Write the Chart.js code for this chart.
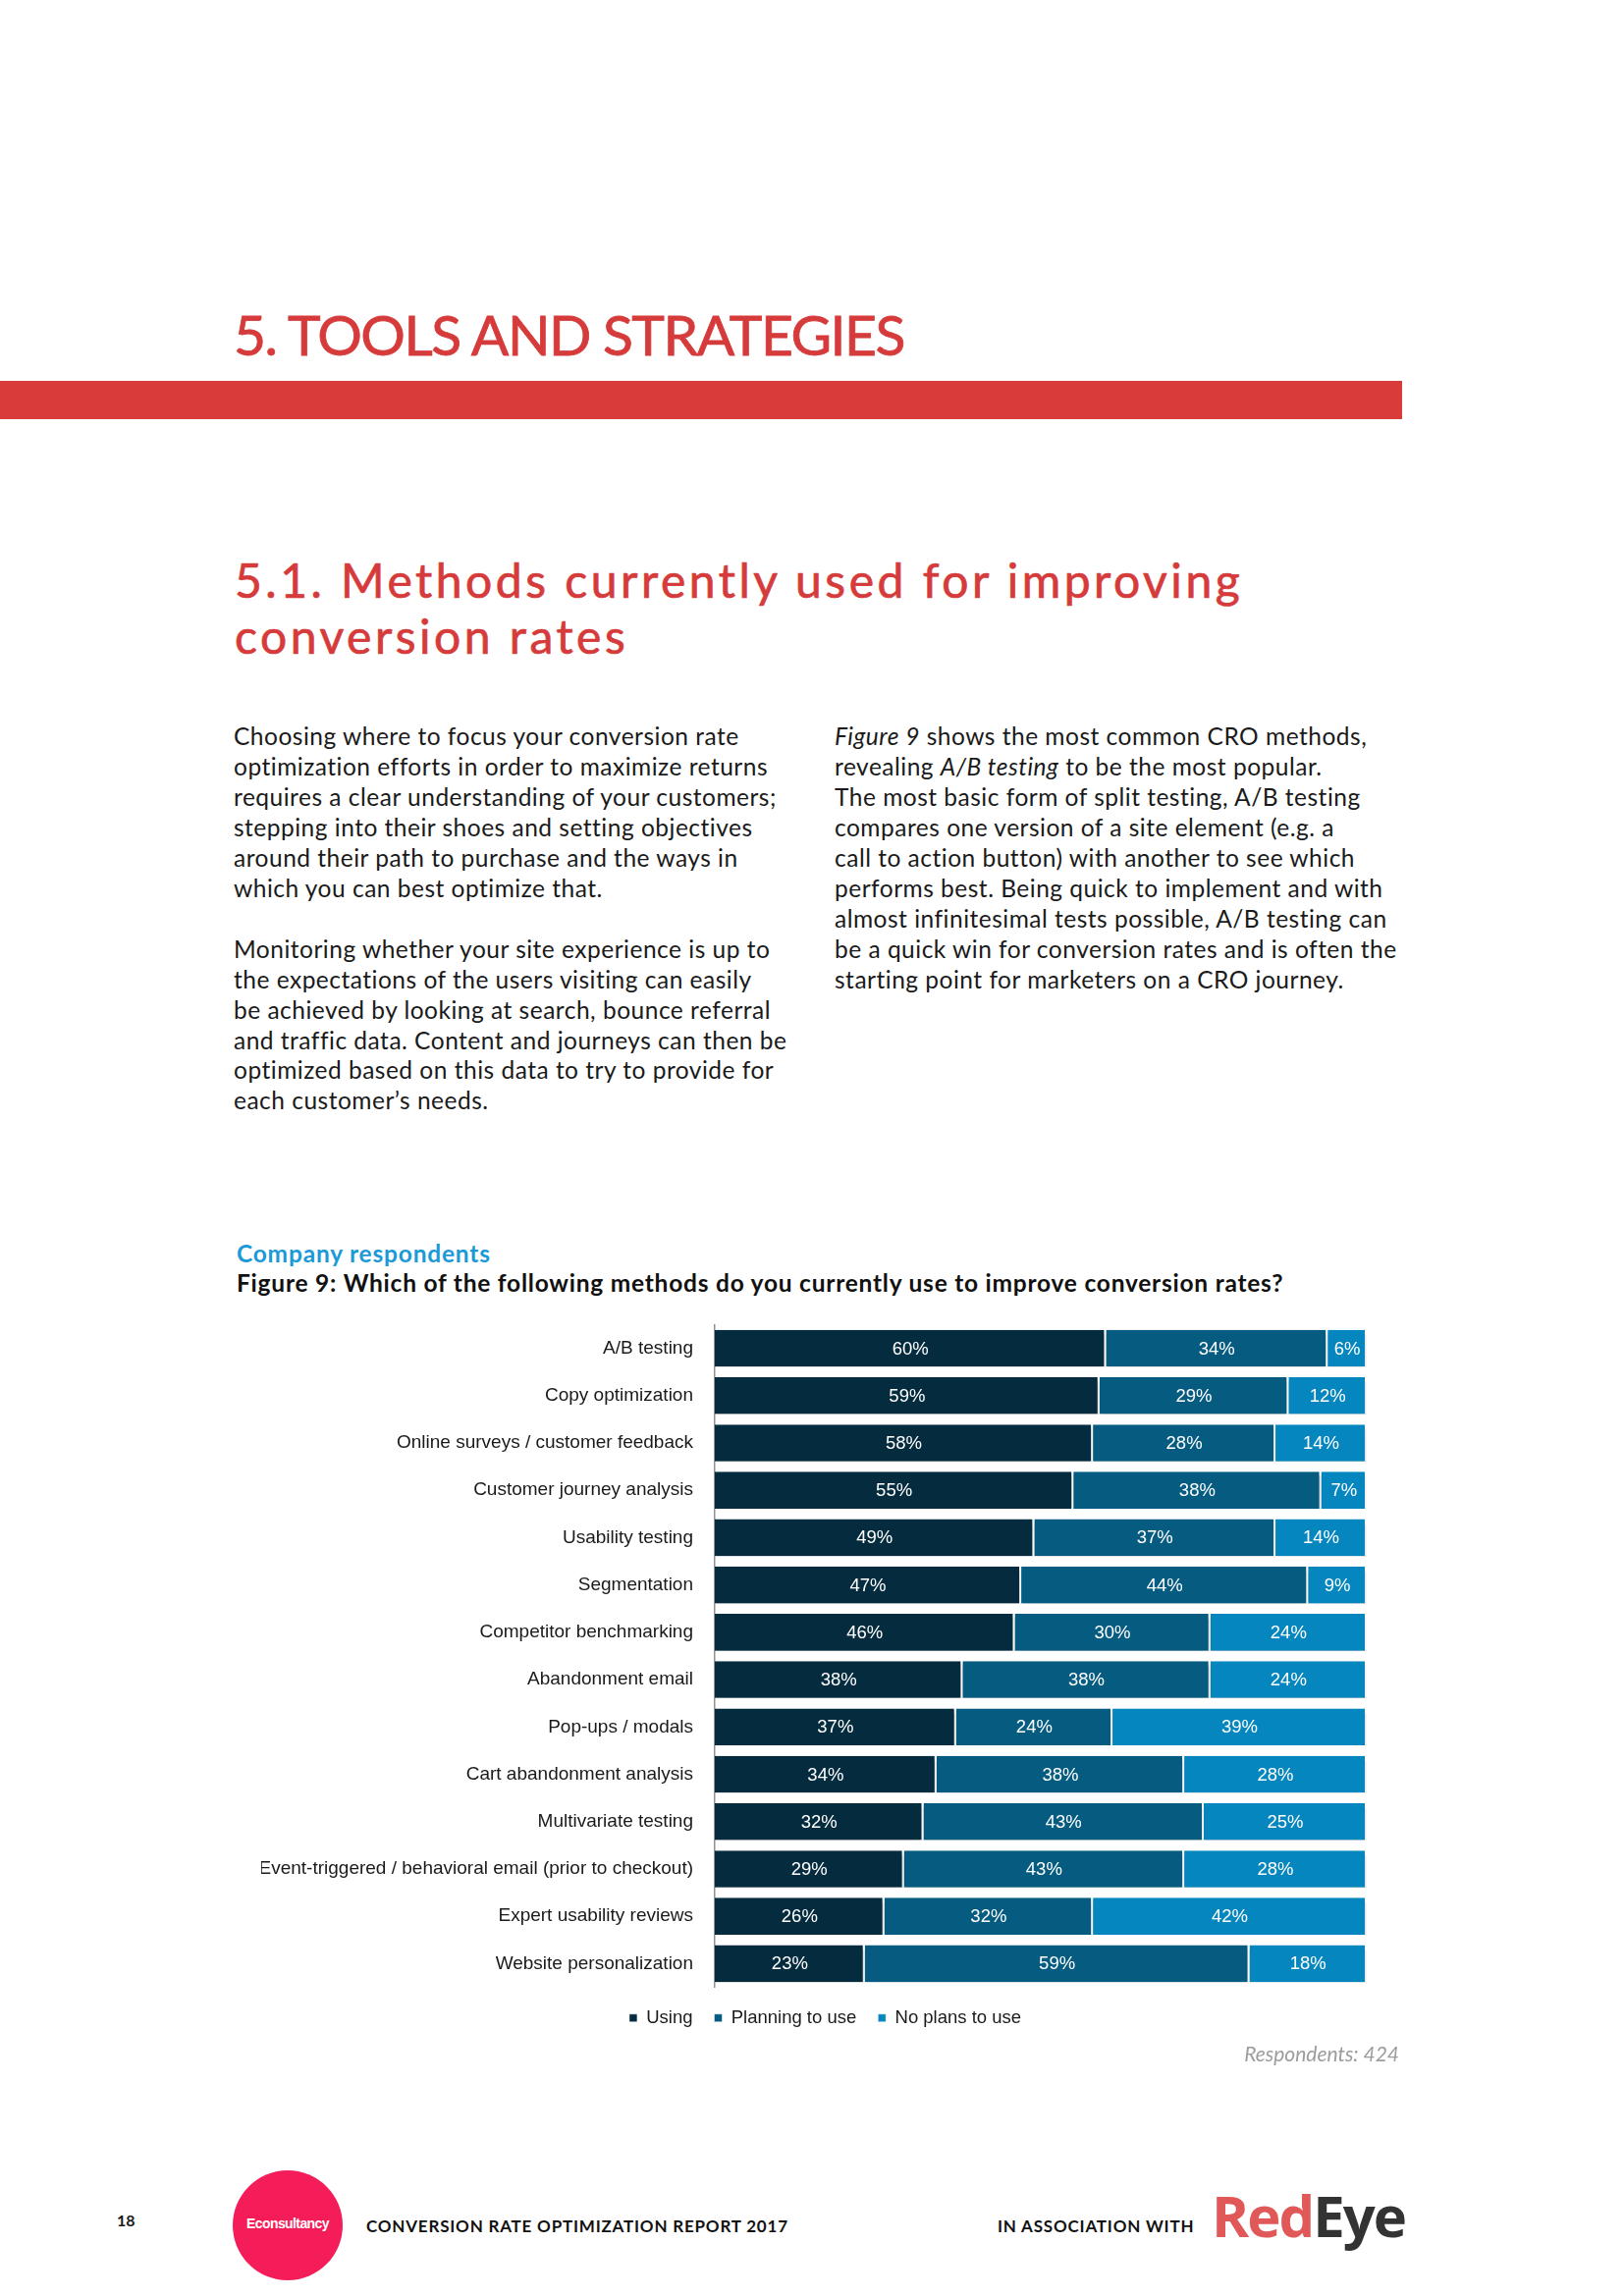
<!DOCTYPE html>
<html>
<head>
<meta charset="utf-8">
<script src="https://cdn.jsdelivr.net/npm/chart.js@4"></script>
<style>
  body { margin: 0; background: #fff; }
  #page { position: relative; width: 1654px; height: 2339px; overflow: hidden; background: #fff; font-family: Lato, "Open Sans", sans-serif; color: #1a1a1a; }
  .abs { position: absolute; white-space: nowrap; }
  .h1 { left: 238px; top: 312px; font-size: 57px; line-height: 57px; color: #d63b3b; letter-spacing: -1.5px; font-weight: 400; -webkit-text-stroke: 0.8px #d63b3b; }
  .bar { left: 0; top: 388px; width: 1428px; height: 39px; background: #d93b3b; }
  .h2 { left: 239px; top: 562px; font-size: 48px; line-height: 57px; color: #d63b3b; letter-spacing: 3.5px; font-weight: 400; -webkit-text-stroke: 0.7px #d63b3b; }
  .body { font-size: 24.5px; line-height: 30.95px; letter-spacing: 0.5px; color: #1a1a1a; }
  .blue { left: 241px; top: 1262px; font-size: 24.5px; line-height: 30px; letter-spacing: 0.8px; font-weight: 700; color: #1b9ad7; }
  .fig { left: 241px; top: 1292px; font-size: 24.5px; line-height: 30px; letter-spacing: 0.77px; font-weight: 700; color: #111; }
  #chartBox { position: absolute; left: 266px; top: 1324px; width: 1149px; height: 759px; }
  .resp { right: 229px; top: 2079px; font-size: 21px; line-height: 26px; font-style: italic; color: #9c9c9c; }
  .pg { left: 119px; top: 2252px; font-size: 16px; font-weight: 700; }
  .circ { left: 237px; top: 2211px; width: 112px; height: 112px; border-radius: 50%; background: #f41d59; }
  .econ { left: 237px; top: 2257px; width: 112px; text-align: center; font-family: "Liberation Sans", Arial, sans-serif; font-size: 14px; font-weight: 700; color: #fff; letter-spacing: -0.6px; }
  .foot { top: 2257px; font-size: 17px; line-height: 22px; letter-spacing: 0.8px; font-weight: 700; color: #111; }
  .logo { left: 1234px; top: 2222px; font-family: "Open Sans", sans-serif; font-size: 58px; line-height: 70px; font-weight: 700; letter-spacing: -2px; }
</style>
</head>
<body>
<div id="page">
  <div class="abs h1">5. TOOLS AND STRATEGIES</div>
  <div class="abs bar"></div>
  <div class="abs h2">5.1. Methods currently used for improving<br>conversion rates</div>

  <div class="abs body" style="left:238px; top:735px;">
    Choosing where to focus your conversion rate<br>
    optimization efforts in order to maximize returns<br>
    requires a clear understanding of your customers;<br>
    stepping into their shoes and setting objectives<br>
    around their path to purchase and the ways in<br>
    which you can best optimize that.<br>
    <br>
    Monitoring whether your site experience is up to<br>
    the expectations of the users visiting can easily<br>
    be achieved by looking at search, bounce referral<br>
    and traffic data. Content and journeys can then be<br>
    optimized based on this data to try to provide for<br>
    each customer’s needs.
  </div>
  <div class="abs body" style="left:850px; top:735px;">
    <i>Figure 9</i> shows the most common CRO methods,<br>
    revealing <i>A/B testing</i> to be the most popular.<br>
    The most basic form of split testing, A/B testing<br>
    compares one version of a site element (e.g. a<br>
    call to action button) with another to see which<br>
    performs best. Being quick to implement and with<br>
    almost infinitesimal tests possible, A/B testing can<br>
    be a quick win for conversion rates and is often the<br>
    starting point for marketers on a CRO journey.
  </div>

  <div class="abs blue">Company respondents</div>
  <div class="abs fig">Figure 9: Which of the following methods do you currently use to improve conversion rates?</div>

  <div id="chartBox"><canvas id="chart"></canvas></div>

  <div class="abs resp">Respondents: 424</div>

  <div class="abs pg">18</div>
  <div class="abs circ"></div>
  <div class="abs econ">Econsultancy</div>
  <div class="abs foot" style="left:373px;">CONVERSION RATE OPTIMIZATION REPORT 2017</div>
  <div class="abs foot" style="left:1016px;">IN ASSOCIATION WITH</div>
  <div class="abs logo"><span style="color:#e05858">Red</span><span style="color:#333">Eye</span></div>
</div>

<script>
const methods = [
  "A/B testing",
  "Copy optimization",
  "Online surveys / customer feedback",
  "Customer journey analysis",
  "Usability testing",
  "Segmentation",
  "Competitor benchmarking",
  "Abandonment email",
  "Pop-ups / modals",
  "Cart abandonment analysis",
  "Multivariate testing",
  "Event-triggered / behavioral email (prior to checkout)",
  "Expert usability reviews",
  "Website personalization"
];
const using    = [60, 59, 58, 55, 49, 47, 46, 38, 37, 34, 32, 29, 26, 23];
const planning = [34, 29, 28, 38, 37, 44, 30, 38, 24, 38, 43, 43, 32, 59];
const noPlans  = [6, 12, 14, 7, 14, 9, 24, 24, 39, 28, 25, 28, 42, 18];

const seriesNames = ["Using", "Planning to use", "No plans to use"];
const seriesColors = ["#052b3f", "#055b80", "#0686be"];

const labelFont = "18.5px 'Liberation Sans', Arial, sans-serif";

// shadow under the bars
const barShadow = {
  id: "barShadow",
  beforeDatasetsDraw(chart) {
    const ctx = chart.ctx;
    ctx.save();
    ctx.shadowColor = "rgba(0,0,0,0.28)";
    ctx.shadowOffsetY = 4;
    ctx.shadowBlur = 3;
  },
  afterDatasetsDraw(chart) {
    chart.ctx.restore();
  }
};

// percent labels inside the segments
const segLabels = {
  id: "segLabels",
  afterDatasetsDraw(chart) {
    const ctx = chart.ctx;
    ctx.save();
    ctx.font = labelFont;
    ctx.fillStyle = "#fff";
    ctx.textAlign = "center";
    ctx.textBaseline = "middle";
    chart.data.datasets.forEach((ds, i) => {
      const meta = chart.getDatasetMeta(i);
      meta.data.forEach((bar, j) => {
        const cx = (bar.x + bar.base) / 2;
        ctx.fillText(ds.data[j] + "%", cx, bar.y + 1);
      });
    });
    ctx.restore();
  }
};

const datasets = [using, planning, noPlans].map((vals, i) => ({
  label: seriesNames[i],
  data: vals,
  backgroundColor: seriesColors[i],
  borderColor: "#ffffff",
  borderWidth: { top: 0, bottom: 0, left: 0, right: 2 },
  borderSkipped: false,
  categoryPercentage: 1,
  barPercentage: 0.78
}));

new Chart(document.getElementById("chart"), {
  type: "bar",
  data: { labels: methods, datasets: datasets },
  options: {
    indexAxis: "y",
    responsive: true,
    maintainAspectRatio: false,
    animation: false,
    layout: { padding: { top: 0, right: 0, bottom: 8, left: 0 } },
    scales: {
      x: { stacked: true, min: 0, max: 100, display: false },
      y: {
        stacked: true,
        grid: { display: false },
        border: { display: true, color: "#8f8f8f", width: 1.5 },
        ticks: {
          color: "#1a1a1a",
          padding: 14,
          font: { family: "'Liberation Sans', Arial, sans-serif", size: 19 }
        },
        afterFit(scale) { scale.width = 462; }
      },
      // empty strip on the right so the legend sits where the original has it
      yR: {
        type: "category",
        labels: methods,
        position: "right",
        grid: { display: false },
        border: { display: false },
        ticks: { display: false },
        afterFit(scale) { scale.width = 23; }
      }
    },
    plugins: {
      legend: {
        position: "bottom",
        labels: {
          boxWidth: 8,
          boxHeight: 8,
          padding: 22,
          color: "#1a1a1a",
          font: { family: "'Liberation Sans', Arial, sans-serif", size: 18.5 }
        }
      },
      tooltip: { enabled: false }
    }
  },
  plugins: [barShadow, segLabels]
});
</script>
</body>
</html>
